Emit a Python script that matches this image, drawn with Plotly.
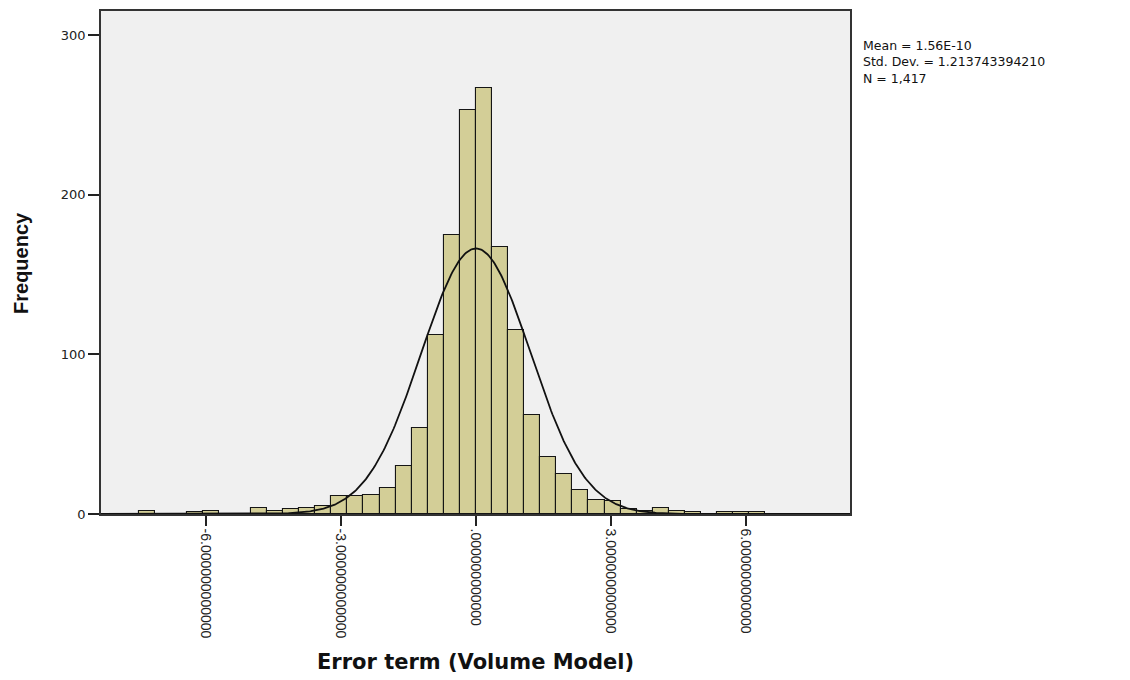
import numpy as np
import plotly.graph_objects as go

# ---- data ----
bin_width = 0.357
bin_index = [-21, -18, -17, -14, -13, -12, -11, -10, -9, -8, -7, -6, -5, -4, -3, -2, -1,
             0, 1, 2, 3, 4, 5, 6, 7, 8, 9, 10, 11, 12, 13, 15, 16, 17]
counts = [2, 1, 2, 4, 2, 3, 4, 5, 11, 11, 12, 16, 30, 54, 112, 175, 253,
          267, 167, 115, 62, 36, 25, 15, 9, 8, 3, 2, 4, 2, 1, 1, 1, 1]

stat_mean = 1.56e-10
stat_sd = 1.213743394210
stat_n = 1417

x_tick_vals = [-6, -3, 0, 3, 6]
x_tick_text = ["-6.000000000000", "-3.000000000000", ".000000000000",
               "3.000000000000", "6.000000000000"]
y_tick_vals = [0, 100, 200, 300]

stats_lines = ["Mean = 1.56E-10", "Std. Dev. = 1.213743394210", "N = 1,417"]

x_range = [-8.33, 8.31]
y_range = [0, 315]

# ---- derived ----
centers = [(k + 0.5) * bin_width for k in bin_index]
xs = np.linspace(x_range[0], x_range[1], 600)
ys = stat_n * bin_width * np.exp(-0.5 * ((xs - stat_mean) / stat_sd) ** 2) / (stat_sd * np.sqrt(2 * np.pi))

fig = go.Figure()
fig.add_trace(go.Bar(
    x=centers, y=counts, width=bin_width,
    marker=dict(color="#D3CE97", line=dict(color="#151515", width=1.1)),
    showlegend=False, hoverinfo="x+y",
))
fig.add_trace(go.Scatter(
    x=xs, y=ys, mode="lines",
    line=dict(color="#111111", width=1.8),
    showlegend=False, hoverinfo="skip",
))

fig.update_layout(
    width=1130, height=680,
    margin=dict(l=101, r=280, t=9, b=166),
    paper_bgcolor="white",
    plot_bgcolor="#F0F0F0",
    bargap=0,
    xaxis=dict(
        range=x_range, tickmode="array", tickvals=x_tick_vals, ticktext=x_tick_text,
        tickangle=90, ticks="outside", ticklen=10, tickwidth=1.5, tickcolor="#222",
        tickfont=dict(family="Liberation Sans, Arial", size=14, color="#222"),
        showgrid=False, zeroline=False,
        showline=True, linecolor="#333", linewidth=1.5, mirror=True,
    ),
    yaxis=dict(
        range=y_range, tickmode="array", tickvals=y_tick_vals,
        ticks="outside", ticklen=11, tickwidth=1.5, tickcolor="#222",
        tickfont=dict(family="DejaVu Sans", size=13, color="#222"),
        showgrid=False, zeroline=False,
        showline=True, linecolor="#333", linewidth=1.5, mirror=True,
    ),
)

# axis titles
fig.add_annotation(
    text="<b>Error term (Volume Model)</b>", xref="paper", yref="paper",
    x=(475 - 101) / 749, y=(514 - 663) / 505, xanchor="center", yanchor="middle",
    showarrow=False, font=dict(family="DejaVu Sans", size=21, color="#111"),
)
fig.add_annotation(
    text="<b>Frequency</b>", xref="paper", yref="paper",
    x=(21 - 101) / 749, y=(514 - 262) / 505, xanchor="center", yanchor="middle",
    textangle=-90, showarrow=False,
    font=dict(family="Liberation Sans, Arial", size=20, color="#111"),
)

# statistics box text
fig.add_annotation(
    text="<br>".join(stats_lines), xref="paper", yref="paper",
    x=(861 - 101) / 749, y=(514 - 34) / 505, xanchor="left", yanchor="top",
    align="left", showarrow=False,
    font=dict(family="DejaVu Sans", size=12.5, color="#111"),
)

fig.write_html("out.html")
